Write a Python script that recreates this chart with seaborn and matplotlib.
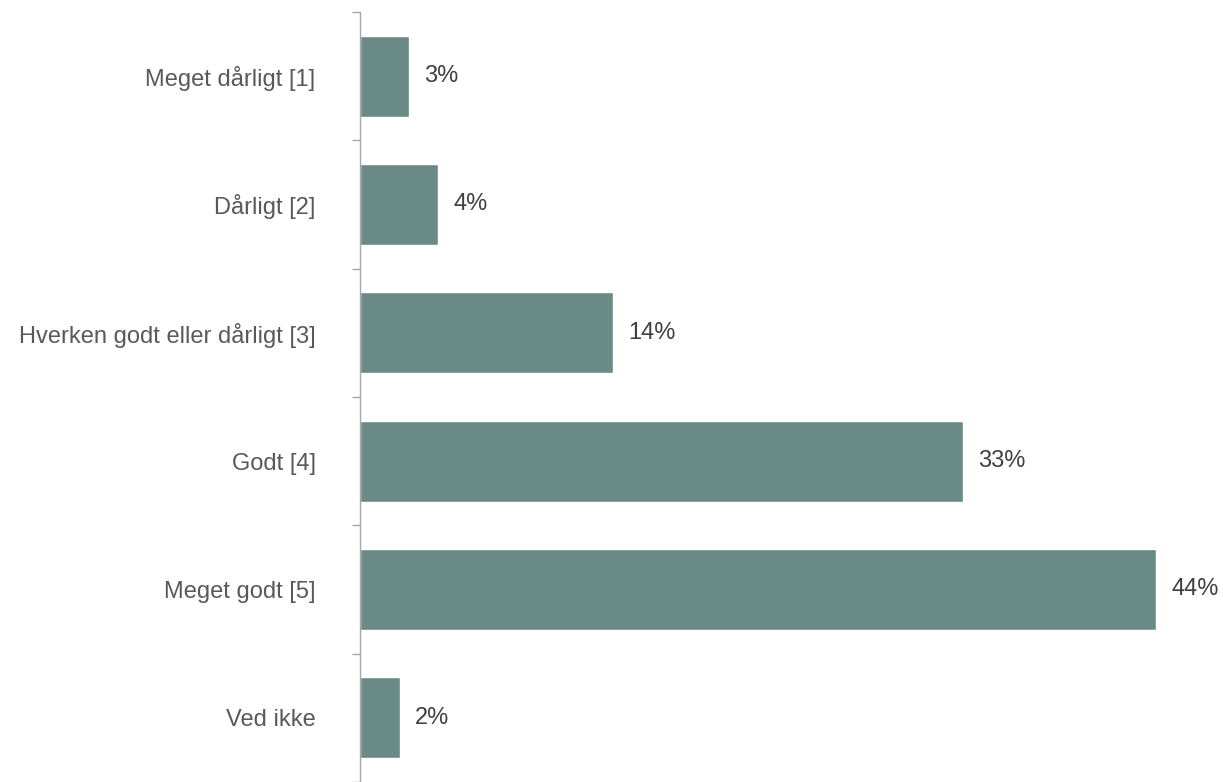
import numpy as np
import pandas as pd
import seaborn as sns
import matplotlib.pyplot as plt

# Survey answers and share of respondents (%)
categories = ["Meget dårligt [1]", "Dårligt [2]", "Hverken godt eller dårligt [3]",
              "Godt [4]", "Meget godt [5]", "Ved ikke"]
shares = [2.7, 4.3, 14.0, 33.3, 44.0, 2.2]
labels = ["3%", "4%", "14%", "33%", "44%", "2%"]

df = pd.DataFrame({"category": categories, "share": shares})

sns.set_style("white")
plt.rcParams['font.family'] = ['Liberation Sans', 'DejaVu Sans']

fig = plt.figure(figsize=(12.23, 7.82), dpi=100)
ax = fig.add_axes([0.2944, 0.0, 0.70, 0.9847])

sns.barplot(data=df, x="share", y="category", color="#6a8a87", saturation=1,
            width=0.63, orient="h", ax=ax)

ax.bar_label(ax.containers[0], labels=labels, padding=11, fontsize=17, color="#404040")

ax.set_xlim(0, 47.3)
ax.set_ylim(len(categories) - 0.5, -0.5)
ax.set_xlabel("")
ax.set_ylabel("")
ax.set_xticks([])

# category labels without marks, boundary marks as minor ticks
ax.tick_params(axis="y", which="major", left=True, length=0, pad=32, labelsize=17, labelcolor="#595959")
ax.set_yticks(np.arange(-0.5, len(categories) + 0.5, 1), minor=True)
ax.tick_params(axis="y", which="minor", left=True, length=6, width=1, color="#a6a6a6", direction="out")

for side in ["top", "right", "bottom"]:
    ax.spines[side].set_visible(False)
ax.spines["left"].set_color("#a6a6a6")
ax.spines["left"].set_linewidth(1)

fig.savefig("out.png", dpi=100)
